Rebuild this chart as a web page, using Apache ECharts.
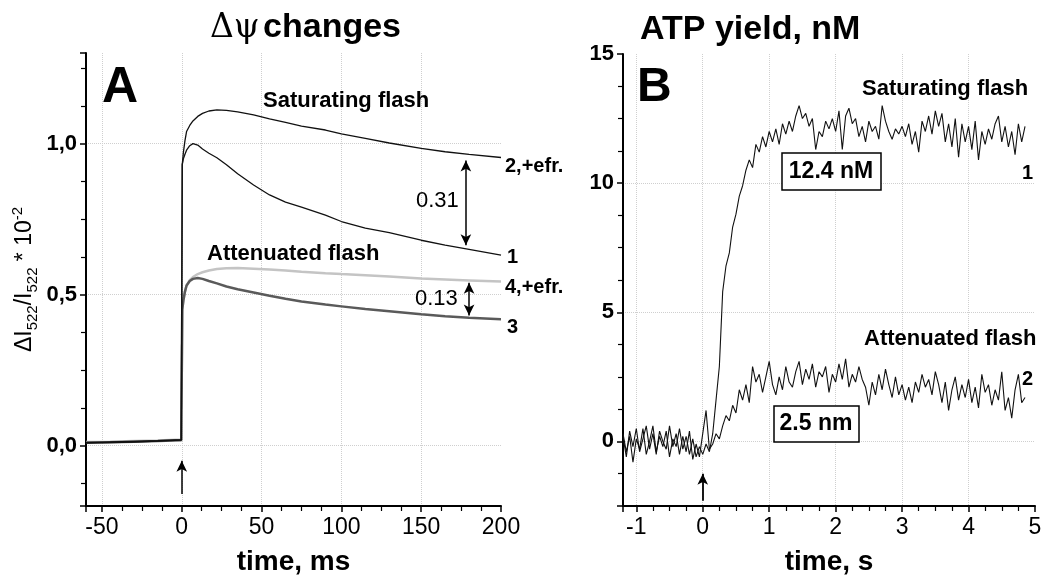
<!DOCTYPE html>
<html lang="en">
<head>
    <meta charset="UTF-8">
    <title>Δψ and ATP yield</title>
    <script src="https://cdn.jsdelivr.net/npm/echarts@6/dist/echarts.min.js"></script>
    <style>
        html, body { margin: 0; padding: 0; background: #fff; }
        #charts { width: 1048px; height: 581px; }
    </style>
</head>
<body>
<div id="charts"></div>

<script>
    // panel A: membrane potential traces, time in ms
    var timeA = [-60, -45, -30, -15, -0.3, 0.3, 1, 2, 3, 5, 7, 10, 13, 17, 22, 28, 35, 45, 55, 65, 75, 90, 100, 115, 130, 150, 165, 180, 200];
    var satFlash = [0.008, 0.010, 0.012, 0.015, 0.018, 0.93, 0.95, 0.965, 0.978, 0.993, 1.0, 0.995, 0.982, 0.968, 0.953, 0.93, 0.9, 0.863, 0.83, 0.806, 0.79, 0.763, 0.742, 0.72, 0.705, 0.68, 0.664, 0.65, 0.631];
    var satFlashEfr = [0.010, 0.012, 0.014, 0.016, 0.020, 0.93, 0.97, 1.01, 1.04, 1.06, 1.075, 1.09, 1.10, 1.108, 1.112, 1.11, 1.105, 1.095, 1.082, 1.07, 1.058, 1.045, 1.032, 1.017, 1.002, 0.984, 0.973, 0.964, 0.954];
    var attFlash = [0.010, 0.011, 0.013, 0.015, 0.018, 0.45, 0.48, 0.51, 0.53, 0.545, 0.552, 0.555, 0.552, 0.545, 0.537, 0.527, 0.518, 0.507, 0.496, 0.486, 0.477, 0.467, 0.461, 0.452, 0.445, 0.435, 0.428, 0.423, 0.418];
    var attFlashEfr = [0.012, 0.013, 0.015, 0.017, 0.020, 0.45, 0.48, 0.51, 0.53, 0.548, 0.558, 0.568, 0.574, 0.58, 0.585, 0.587, 0.588, 0.586, 0.583, 0.58, 0.576, 0.571, 0.568, 0.564, 0.56, 0.553, 0.55, 0.547, 0.543];

    // panel B: ATP yield, time in s
    var timeB = [-1.2, -1.15, -1.1, -1.05, -1, -0.95, -0.9, -0.85, -0.8, -0.75,
        -0.7, -0.65, -0.6, -0.55, -0.5, -0.45, -0.4, -0.35, -0.3, -0.25,
        -0.2, -0.15, -0.1, -0.05, 0, 0.05, 0.1, 0.15, 0.2, 0.25,
        0.3, 0.35, 0.4, 0.45, 0.5, 0.55, 0.6, 0.65, 0.7, 0.75,
        0.8, 0.85, 0.9, 0.95, 1, 1.05, 1.1, 1.15, 1.2, 1.25,
        1.3, 1.35, 1.4, 1.45, 1.5, 1.55, 1.6, 1.65, 1.7, 1.75,
        1.8, 1.85, 1.9, 1.95, 2, 2.05, 2.1, 2.15, 2.2, 2.25,
        2.3, 2.35, 2.4, 2.45, 2.5, 2.55, 2.6, 2.65, 2.7, 2.75,
        2.8, 2.85, 2.9, 2.95, 3, 3.05, 3.1, 3.15, 3.2, 3.25,
        3.3, 3.35, 3.4, 3.45, 3.5, 3.55, 3.6, 3.65, 3.7, 3.75,
        3.8, 3.85, 3.9, 3.95, 4, 4.05, 4.1, 4.15, 4.2, 4.25,
        4.3, 4.35, 4.4, 4.45, 4.5, 4.55, 4.6, 4.65, 4.7, 4.75,
        4.8, 4.85];
    var atpSat = [0.3, -0.4, 0.2, -0.8, 0.1, -0.3, 0.5, -0.5, 0.0, 0.6,
        -0.4, 0.2, -0.2, 0.4, -0.6, 0.1, -0.2, 0.5, -0.3, 0.2,
        -0.5, 0.1, -0.6, -0.2, -0.5, -0.1, -0.4, 0.3, 1.6, 2.9,
        5.8, 6.8, 7.3, 8.3, 8.8, 9.5, 9.9, 10.5, 10.9, 10.6,
        11.5, 11.2, 11.8, 11.4, 12.0, 11.6, 12.1, 11.5, 12.3, 11.9,
        12.4, 12.0, 12.6, 13.0, 12.5, 12.7, 12.2, 12.5, 11.3, 12.0,
        11.8, 12.4, 12.1, 12.5, 12.0, 12.8, 11.3, 12.6, 12.9, 12.3,
        12.5, 11.8, 12.2, 11.6, 12.4, 12.0, 12.2, 11.7, 13.0, 12.4,
        12.0, 11.7, 12.1, 11.9, 12.2, 11.8, 12.3, 11.5, 12.0, 11.2,
        12.4, 12.0, 12.6, 11.9, 12.8, 12.2, 12.7, 11.6, 12.3, 11.4,
        12.5, 11.0, 12.3, 11.6, 12.2, 11.3, 12.4, 10.9, 12.0, 11.5,
        12.1, 11.7, 12.3, 12.6, 11.6, 12.2, 11.4, 12.0, 11.1, 12.3,
        11.6, 12.2];
    var atpAtt = [0.2, -0.6, 0.4, -0.2, 0.5, -0.4, 0.1, 0.6, -0.3, 0.3,
        -0.5, 0.4, 0.0, -0.3, 0.6, -0.2, 0.3, -0.5, 0.2, -0.4,
        0.4, -0.7, -0.1, -0.6, 0.3, 1.2, -0.3, -0.1, 0.3, 0.1,
        0.6, 1.0, 0.8, 1.4, 1.1, 2.0, 1.6, 2.2, 1.5, 2.9,
        2.3, 2.6, 1.9, 2.5, 3.1, 2.2, 1.8, 2.5, 2.0, 2.9,
        2.3, 2.1, 2.7, 3.1, 2.2, 2.8, 2.4, 3.0, 2.1, 2.7,
        2.5, 2.9, 1.9, 2.6, 2.3, 3.0, 2.4, 3.2, 2.1, 2.6,
        2.3, 2.9, 2.4, 2.1, 1.4, 2.3, 1.8, 2.6, 2.0, 2.8,
        2.2, 1.7, 2.5, 1.8, 2.2, 1.6, 2.1, 1.5, 2.3, 1.9,
        2.6, 2.1, 2.4, 1.8, 2.7, 2.2, 1.5, 2.3, 1.2, 2.0,
        2.5, 1.6, 2.2, 1.7, 2.4, 1.5, 2.1, 1.3, 2.6, 1.9,
        2.2, 1.4, 2.0, 1.6, 2.7, 1.2, 1.7, 0.9, 2.0, 2.6,
        1.5, 1.7];

    // annotation arrows, in data units: [x, yFrom, yTo, twoHeaded]
    var arrowsA = [[178, 0.944, 0.663, true], [180, 0.539, 0.431, true], [0, -0.16, -0.05, false]];
    var arrowsB = [[0, -2.3, -1.25, false]];

    var font = '"Liberation Sans", Arial, sans-serif';

    function pairs(xs, ys) {
        return xs.map(function (x, i) { return [x, ys[i]]; });
    }

    function arrowLines(list) {
        return list.map(function (a) {
            return [
                { coord: [a[0], a[1]], symbol: a[3] ? 'arrow' : 'none' },
                { coord: [a[0], a[2]], symbol: 'arrow' }
            ];
        });
    }

    function commaFmt(v) {
        return v.toFixed(1).replace('.', ',');
    }

    var axisBase = {
        type: 'value',
        axisLine: { show: true, onZero: false, lineStyle: { color: '#000', width: 2 } },
        axisTick: { show: true, length: 6, lineStyle: { color: '#000', width: 1.5 } },
        minorTick: { show: true, splitNumber: 4, length: 5, lineStyle: { color: '#000', width: 1.2 } },
        splitLine: { show: true, showMinLine: false, showMaxLine: false, lineStyle: { color: '#cfcfcf', type: 'dotted', width: 1 } }
    };

    function axis(extra) {
        return Object.assign({}, JSON.parse(JSON.stringify(axisBase)), extra);
    }

    function label(x, y, text, f) {
        return { type: 'text', x: x, y: y, z: 100, style: { text: text, font: f + ' ' + font, fill: '#000', verticalAlign: 'middle', textVerticalAlign: 'middle' } };
    }

    var myChart = echarts.init(document.getElementById('charts'), null, { renderer: 'canvas' });

    var option = {
        animation: false,
        backgroundColor: '#fff',
        textStyle: { fontFamily: font },
        grid: [
            { left: 86, top: 53, width: 415, height: 459 },
            { left: 623, top: 54, width: 412, height: 460 }
        ],
        xAxis: [
            axis({
                gridIndex: 0, min: -60, max: 200, splitNumber: 5,
                axisLabel: { showMinLabel: false, color: '#000', fontSize: 23, margin: 10, fontFamily: font },
                name: 'time, ms', nameLocation: 'middle', nameGap: 42,
                nameTextStyle: { color: '#000', fontSize: 28, fontWeight: 'bold', fontFamily: font }
            }),
            axis({
                gridIndex: 1, min: -1.2, max: 5, splitNumber: 6,
                axisLabel: { showMinLabel: false, color: '#000', fontSize: 23, margin: 10, fontFamily: font },
                name: 'time, s', nameLocation: 'middle', nameGap: 42,
                nameTextStyle: { color: '#000', fontSize: 28, fontWeight: 'bold', fontFamily: font }
            })
        ],
        yAxis: [
            axis({
                gridIndex: 0, min: -0.2, max: 1.3, splitNumber: 3,
                axisLabel: { showMinLabel: false, showMaxLabel: false, formatter: commaFmt, color: '#000', fontSize: 22, fontWeight: 'bold', margin: 9, fontFamily: font },
                name: '{a|ΔI}{s|522}{a|/I}{s|522}{a| * 10}{p|-2}',
                nameLocation: 'middle', nameGap: 46, nameRotate: 90,
                nameTextStyle: {
                    color: '#000',
                    rich: {
                        a: { fontSize: 23, lineHeight: 30, fontFamily: font, color: '#000' },
                        s: { fontSize: 15, lineHeight: 14, verticalAlign: 'bottom', fontFamily: font, color: '#000' },
                        p: { fontSize: 15, lineHeight: 14, verticalAlign: 'top', fontFamily: font, color: '#000' }
                    }
                }
            }),
            axis({
                gridIndex: 1, min: -2.5, max: 15, splitNumber: 4,
                axisLabel: { showMinLabel: false, color: '#000', fontSize: 22, fontWeight: 'bold', margin: 9, fontFamily: font }
            })
        ],
        series: [
            {
                name: '4,+efr.', type: 'line', xAxisIndex: 0, yAxisIndex: 0,
                data: pairs(timeA, attFlashEfr), showSymbol: false, silent: true,
                lineStyle: { color: '#c4c4c4', width: 2.5 }
            },
            {
                name: '3', type: 'line', xAxisIndex: 0, yAxisIndex: 0,
                data: pairs(timeA, attFlash), showSymbol: false, silent: true,
                lineStyle: { color: '#5a5a5a', width: 2.5 }
            },
            {
                name: '2,+efr.', type: 'line', xAxisIndex: 0, yAxisIndex: 0,
                data: pairs(timeA, satFlashEfr), showSymbol: false, silent: true,
                lineStyle: { color: '#111', width: 1.3 }
            },
            {
                name: '1', type: 'line', xAxisIndex: 0, yAxisIndex: 0,
                data: pairs(timeA, satFlash), showSymbol: false, silent: true,
                lineStyle: { color: '#111', width: 1.3 },
                markLine: {
                    silent: true, symbolSize: [8, 11], label: { show: false },
                    lineStyle: { color: '#000', width: 1.5, type: 'solid' },
                    data: arrowLines(arrowsA)
                }
            },
            {
                name: 'B1', type: 'line', xAxisIndex: 1, yAxisIndex: 1,
                data: pairs(timeB, atpSat), showSymbol: false, silent: true,
                lineStyle: { color: '#111', width: 1.1 },
                markLine: {
                    silent: true, symbolSize: [8, 11], label: { show: false },
                    lineStyle: { color: '#000', width: 1.8, type: 'solid' },
                    data: arrowLines(arrowsB)
                }
            },
            {
                name: 'B2', type: 'line', xAxisIndex: 1, yAxisIndex: 1,
                data: pairs(timeB, atpAtt), showSymbol: false, silent: true,
                lineStyle: { color: '#111', width: 1.1 }
            }
        ],
        graphic: [
            // titles
            { type: 'text', x: 210, y: 28, z: 100, style: {
                text: '{g|Δψ} {b|changes}', verticalAlign: 'middle', textVerticalAlign: 'middle',
                rich: {
                    g: { fontSize: 33, fontFamily: '"DejaVu Serif", "Liberation Serif", serif', fill: '#000', color: '#000' },
                    b: { fontSize: 34, fontWeight: 'bold', fontFamily: font, fill: '#000', color: '#000' }
                }
            } },
            label(640, 30, 'ATP yield, nM', 'bold 34px'),
            label(102, 88, 'A', 'bold 50px'),
            label(637, 88, 'B', 'bold 48px'),

            // panel A labels
            label(263, 101, 'Saturating flash', 'bold 22px'),
            label(207, 254, 'Attenuated flash', 'bold 22px'),
            label(505, 166, '2,+efr.', 'bold 20px'),
            label(507, 257, '1', 'bold 20px'),
            label(505, 287, '4,+efr.', 'bold 20px'),
            label(507, 327, '3', 'bold 20px'),
            label(416, 201, '0.31', '22px'),
            label(415, 299, '0.13', '22px'),

            // panel B labels
            label(862, 89, 'Saturating flash', 'bold 22px'),
            { type: 'rect', z: 100, shape: { x: 782, y: 153, width: 99, height: 37 }, style: { fill: '#fff', stroke: '#000', lineWidth: 1.5 } },
            { type: 'text', x: 831, y: 172, z: 101, style: { text: '12.4 nM', font: 'bold 23px ' + font, fill: '#000', align: 'center', textAlign: 'center', verticalAlign: 'middle', textVerticalAlign: 'middle' } },
            label(1022, 173, '1', 'bold 20px'),
            label(864, 339, 'Attenuated flash', 'bold 22px'),
            label(1022, 379, '2', 'bold 20px'),
            { type: 'rect', z: 100, shape: { x: 774, y: 406, width: 85, height: 36 }, style: { fill: '#fff', stroke: '#000', lineWidth: 1.5 } },
            { type: 'text', x: 816, y: 424, z: 101, style: { text: '2.5 nm', font: 'bold 23px ' + font, fill: '#000', align: 'center', textAlign: 'center', verticalAlign: 'middle', textVerticalAlign: 'middle' } }
        ]
    };

    myChart.setOption(option);
</script>
</body>
</html>
